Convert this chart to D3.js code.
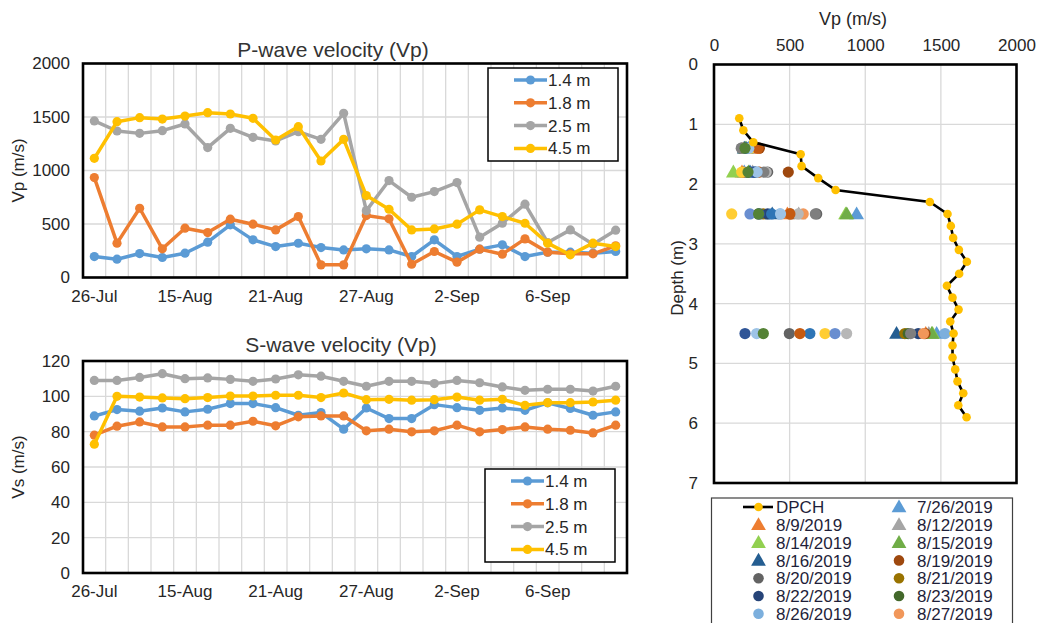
<!DOCTYPE html>
<html>
<head>
<meta charset="utf-8">
<script src="https://cdn.jsdelivr.net/npm/d3@7"></script>
<style>
  body { margin: 0; background: #fff; }
  text { font-family: "Liberation Sans", Arial, sans-serif; }
</style>
</head>
<body>
<div id="vis"></div>
<script>
// measurement dates (category axis of the two left charts)
const dates = ["26-Jul", "9-Aug", "12-Aug", "14-Aug", "15-Aug", "16-Aug", "19-Aug", "20-Aug",
	"21-Aug", "22-Aug", "23-Aug", "26-Aug", "27-Aug", "28-Aug", "29-Aug", "30-Aug",
	"2-Sep", "3-Sep", "4-Sep", "5-Sep", "6-Sep", "9-Sep", "10-Sep", "11-Sep"];

const depthNames = ["1.4 m", "1.8 m", "2.5 m", "4.5 m"];

// P-wave velocity (m/s)
const vp14 = [196, 171, 224, 187, 227, 330, 492, 352, 289, 320, 280, 258, 268, 258, 196, 352, 196, 265, 305, 196, 237, 237, 227, 243];
const vp18 = [934, 321, 647, 268, 461, 420, 545, 498, 445, 569, 118, 118, 579, 548, 124, 243, 143, 265, 218, 361, 237, 221, 221, 296];
const vp25 = [1463, 1369, 1347, 1372, 1435, 1214, 1394, 1310, 1276, 1363, 1291, 1534, 625, 906, 750, 803, 887, 377, 507, 685, 327, 445, 311, 442];
const vp45 = [1114, 1456, 1494, 1481, 1509, 1540, 1528, 1488, 1285, 1410, 1089, 1291, 766, 638, 445, 454, 498, 632, 569, 507, 321, 212, 321, 289];

// S-wave velocity (m/s)
const vs14 = [88.9, 92.5, 91.6, 93.4, 91.2, 92.7, 95.9, 95.9, 93.6, 89.3, 90.8, 81.4, 93.4, 87.4, 87.4, 95.3, 93.6, 92.1, 93.4, 92.1, 96.3, 93.1, 89.3, 91.2];
const vs18 = [78.0, 83.1, 85.5, 82.7, 82.7, 83.7, 83.7, 85.9, 83.3, 88.4, 88.9, 88.9, 80.5, 81.4, 79.9, 80.5, 83.7, 79.9, 81.2, 82.7, 81.4, 80.8, 79.3, 83.7];
const vs25 = [109.0, 109.0, 110.7, 112.8, 110.0, 110.4, 109.6, 108.5, 109.8, 112.2, 111.4, 108.5, 105.7, 108.5, 108.5, 107.2, 109.0, 107.7, 105.3, 103.4, 104.0, 104.0, 103.0, 105.7];
const vs45 = [72.9, 100.0, 99.6, 99.1, 98.7, 99.3, 100.2, 100.2, 100.6, 100.6, 99.3, 101.9, 98.1, 98.3, 97.8, 98.1, 99.6, 97.8, 98.3, 94.9, 96.4, 96.4, 96.8, 97.8];

const lineColors = ["#5B9BD5", "#ED7D31", "#A5A5A5", "#FFC000"];

// DPCH profile
const dpchDepth = [0.9, 1.1, 1.3, 1.5, 1.7, 1.9, 2.1, 2.3, 2.5, 2.7, 2.9, 3.1, 3.3, 3.5, 3.7, 3.9, 4.1, 4.3, 4.5, 4.7, 4.9, 5.1, 5.3, 5.5, 5.7, 5.9];
const dpchVp = [167, 194, 260, 573, 579, 689, 804, 1427, 1544, 1566, 1581, 1619, 1672, 1621, 1540, 1577, 1617, 1562, 1584, 1577, 1577, 1595, 1610, 1648, 1615, 1670];

// per-date Vp at the four sensor depths (right chart)
const sensorDepths = [1.4, 1.8, 2.5, 4.5];
const scatterDates = ["7/26/2019", "8/9/2019", "8/12/2019", "8/14/2019", "8/15/2019", "8/16/2019",
	"8/19/2019", "8/20/2019", "8/21/2019", "8/22/2019", "8/23/2019", "8/26/2019", "8/27/2019",
	"8/28/2019", "8/29/2019", "8/30/2019", "9/2/2019", "9/3/2019", "9/4/2019", "9/5/2019", "9/6/2019", "9/9/2019"];
const scatterVp = [
	[230, 200, 943, 1472],
	[265, 185, 485, 1400],
	[215, 255, 560, 1420],
	[205, 128, 870, 1445],
	[210, 228, 878, 1440],
	[200, 238, 385, 1207],
	[300, 491, 505, 1395],
	[183, 355, 679, 498],
	[195, 190, 325, 1262],
	[225, 275, 355, 1350],
	[205, 227, 293, 1284],
	[238, 293, 436, 1527],
	[285, 195, 590, 1385],
	[190, 345, 557, 877],
	[240, 183, 117, 734],
	[220, 250, 238, 800],
	[212, 268, 381, 634],
	[290, 300, 502, 568],
	[180, 330, 670, 1300],
	[215, 260, 300, 205],
	[230, 285, 440, 282],
	[205, 225, 295, 326]
];
const scatterShapes = ["tri", "tri", "tri", "tri", "tri", "tri", "dot", "dot", "dot", "dot", "dot", "dot", "dot",
	"dot", "dot", "dot", "dot", "dot", "dot", "dot", "dot", "dot"];
const scatterColors = ["#5B9BD5", "#ED7D31", "#A5A5A5", "#92D050", "#70AD47", "#255E91", "#9E480E", "#636363",
	"#997300", "#264478", "#43682B", "#7CAFDD", "#F1975A", "#B7B7B7", "#FFCD33", "#698ED0", "#2E75B6",
	"#C55A11", "#7F7F7F", "#2F5597", "#9DC3E6", "#548235"];

// only the first rows of the legend fit inside the picture
const legendShown = 14;

const svg = d3.select("#vis").append("svg")
	.attr("width", 1042)
	.attr("height", 623);

const grid = "#D9D9D9";
const txt = "#262626";

function lineChart(opt) {
	const g = svg.append("g");
	const x = d3.scaleBand().domain(dates).range([opt.left, opt.right]);
	const y = d3.scaleLinear().domain([0, opt.max]).range([opt.bottom, opt.top]);

	// vertical grid at category edges
	g.selectAll(".vg").data(dates.slice(1)).enter().append("line")
		.attr("x1", d => x(d)).attr("x2", d => x(d))
		.attr("y1", opt.top).attr("y2", opt.bottom)
		.style("stroke", grid).style("stroke-width", 1.3);
	g.selectAll(".hg").data(opt.ticks).enter().append("line")
		.attr("x1", opt.left).attr("x2", opt.right)
		.attr("y1", d => y(d)).attr("y2", d => y(d))
		.style("stroke", grid).style("stroke-width", 1.3);

	const yAxis = g.append("g")
		.attr("transform", "translate(" + (opt.left - 13) + ",0)")
		.call(d3.axisLeft(y).tickValues(opt.ticks).tickSize(0).tickPadding(0).tickFormat(d3.format("d")));
	yAxis.select(".domain").remove();
	yAxis.selectAll("text").style("font-size", "17px").style("fill", txt)
		.style("font-family", "'Liberation Sans', Arial, sans-serif");

	const xAxis = g.append("g")
		.attr("transform", "translate(0," + (opt.bottom + 12) + ")")
		.call(d3.axisBottom(x).tickValues(dates.filter((d, i) => i % 4 == 0)).tickSize(0).tickPadding(0));
	xAxis.select(".domain").remove();
	xAxis.selectAll("text").style("font-size", "17px").style("fill", txt)
		.style("font-family", "'Liberation Sans', Arial, sans-serif");

	const line = d3.line().x((d, i) => x(dates[i]) + x.bandwidth() / 2).y(d => y(d));
	opt.series.forEach((s, k) => {
		g.append("path").datum(s)
			.attr("d", line)
			.style("fill", "none")
			.style("stroke", lineColors[k])
			.style("stroke-width", 3.5)
			.style("stroke-linejoin", "round");
		g.selectAll(".m" + k).data(s).enter().append("circle")
			.attr("cx", (d, i) => x(dates[i]) + x.bandwidth() / 2)
			.attr("cy", d => y(d))
			.attr("r", 4.6)
			.style("fill", lineColors[k]);
	});

	g.append("rect")
		.attr("x", opt.left).attr("y", opt.top)
		.attr("width", opt.right - opt.left).attr("height", opt.bottom - opt.top)
		.style("fill", "none").style("stroke", "#000").style("stroke-width", 2.6);

	g.append("text")
		.attr("x", opt.titleX).attr("y", opt.titleY)
		.style("text-anchor", "middle").style("font-size", "21px").style("fill", "#333")
		.text(opt.title);

	g.append("text")
		.attr("transform", "translate(24," + (opt.top + opt.bottom) / 2 + ") rotate(-90)")
		.style("text-anchor", "middle").style("font-size", "17px").style("fill", txt)
		.text(opt.ytitle);

	// legend
	const lg = g.append("g");
	lg.append("rect")
		.attr("x", opt.legX).attr("y", opt.legY)
		.attr("width", 130).attr("height", 93)
		.style("fill", "#fff").style("stroke", "#000").style("stroke-width", 1.5);
	depthNames.forEach((n, k) => {
		const ry = opt.legY + 12 + k * 22.8;
		lg.append("line")
			.attr("x1", opt.legX + 26).attr("x2", opt.legX + 59)
			.attr("y1", ry).attr("y2", ry)
			.style("stroke", lineColors[k]).style("stroke-width", 3.5);
		lg.append("circle").attr("cx", opt.legX + 42.5).attr("cy", ry).attr("r", 4.6)
			.style("fill", lineColors[k]);
		lg.append("text")
			.attr("x", opt.legX + 60).attr("y", ry)
			.attr("dy", "0.35em")
			.style("font-size", "17px").style("fill", txt)
			.text(n);
	});
}

lineChart({
	left: 83, right: 627, top: 63.5, bottom: 277.5, max: 2000,
	ticks: [0, 500, 1000, 1500, 2000],
	series: [vp14, vp18, vp25, vp45],
	title: "P-wave velocity (Vp)", titleX: 333, titleY: 57,
	ytitle: "Vp (m/s)",
	legX: 488, legY: 68
});

lineChart({
	left: 83, right: 627, top: 361, bottom: 573, max: 120,
	ticks: [0, 20, 40, 60, 80, 100, 120],
	series: [vs14, vs18, vs25, vs45],
	title: "S-wave velocity (Vp)", titleX: 341, titleY: 352,
	ytitle: "Vs (m/s)",
	legX: 485, legY: 469
});

// ---- right chart: Vp vs depth ----
const rg = svg.append("g");
const rx = d3.scaleLinear().domain([0, 2000]).range([714, 1016.5]);
const ry = d3.scaleLinear().domain([0, 7]).range([64.5, 483]);

rg.selectAll(".vg").data([500, 1000, 1500]).enter().append("line")
	.attr("x1", d => rx(d)).attr("x2", d => rx(d))
	.attr("y1", ry(0)).attr("y2", ry(7))
	.style("stroke", grid).style("stroke-width", 1.3);
rg.selectAll(".hg").data([1, 2, 3, 4, 5, 6]).enter().append("line")
	.attr("x1", rx(0)).attr("x2", rx(2000))
	.attr("y1", d => ry(d)).attr("y2", d => ry(d))
	.style("stroke", grid).style("stroke-width", 1.3);

const topAxis = rg.append("g")
	.attr("transform", "translate(0," + (ry(0) - 14) + ")")
	.call(d3.axisTop(rx).tickValues([0, 500, 1000, 1500, 2000]).tickSize(0).tickPadding(0).tickFormat(d3.format("d")));
topAxis.select(".domain").remove();
topAxis.selectAll("text").style("font-size", "17px").style("fill", txt)
	.style("font-family", "'Liberation Sans', Arial, sans-serif");

const depthAxis = rg.append("g")
	.attr("transform", "translate(" + (rx(0) - 16) + ",0)")
	.call(d3.axisLeft(ry).tickValues(d3.range(0, 8)).tickSize(0).tickPadding(0).tickFormat(d3.format("d")));
depthAxis.select(".domain").remove();
depthAxis.selectAll("text").style("font-size", "17px").style("fill", txt)
	.style("font-family", "'Liberation Sans', Arial, sans-serif");

rg.append("text")
	.attr("x", 853).attr("y", 25)
	.style("text-anchor", "middle").style("font-size", "18px").style("fill", txt)
	.text("Vp (m/s)");
rg.append("text")
	.attr("transform", "translate(683,278) rotate(-90)")
	.style("text-anchor", "middle").style("font-size", "17px").style("fill", txt)
	.text("Depth (m)");

const tri = d3.symbol().type(d3.symbolTriangle).size(95);

scatterVp.forEach((vals, k) => {
	vals.forEach((v, j) => {
		if (scatterShapes[k] == "tri") {
			rg.append("path")
				.attr("d", tri)
				.attr("transform", "translate(" + rx(v) + "," + (ry(sensorDepths[j]) + 1) + ")")
				.style("fill", scatterColors[k]);
		} else {
			rg.append("circle")
				.attr("cx", rx(v)).attr("cy", ry(sensorDepths[j]))
				.attr("r", 5.6)
				.style("fill", scatterColors[k]);
		}
	});
});

const dpch = dpchDepth.map((d, i) => [dpchVp[i], d]);
rg.append("path").datum(dpch)
	.attr("d", d3.line().x(d => rx(d[0])).y(d => ry(d[1])))
	.style("fill", "none").style("stroke", "#000").style("stroke-width", 2.6);
rg.selectAll(".dp").data(dpch).enter().append("circle")
	.attr("cx", d => rx(d[0])).attr("cy", d => ry(d[1]))
	.attr("r", 4.3)
	.style("fill", "#FFC000");

rg.append("rect")
	.attr("x", rx(0)).attr("y", ry(0))
	.attr("width", rx(2000) - rx(0)).attr("height", ry(7) - ry(0))
	.style("fill", "none").style("stroke", "#000").style("stroke-width", 2.6);

// legend of right chart (box runs off the bottom of the picture)
const legItems = ["DPCH"].concat(scatterDates).slice(0, legendShown);
const leg = rg.append("g");
const rowH = 17.8;
leg.append("rect")
	.attr("x", 711.5).attr("y", 498)
	.attr("width", 301).attr("height", 200)
	.style("fill", "#fff").style("stroke", "#404040").style("stroke-width", 1.2);

legItems.forEach((n, i) => {
	const col = i % 2;
	const row = Math.floor(i / 2);
	const cy = 507 + row * rowH;
	const mx = col == 0 ? 758.5 : 899;
	const tx = col == 0 ? 776 : 917;
	if (i == 0) {
		leg.append("line").attr("x1", 743).attr("x2", 773).attr("y1", cy).attr("y2", cy)
			.style("stroke", "#000").style("stroke-width", 2.6);
		leg.append("circle").attr("cx", mx).attr("cy", cy).attr("r", 4.3).style("fill", "#FFC000");
	} else if (scatterShapes[i - 1] == "tri") {
		leg.append("path").attr("d", tri)
			.attr("transform", "translate(" + mx + "," + (cy + 1) + ")")
			.style("fill", scatterColors[i - 1]);
	} else {
		leg.append("circle").attr("cx", mx).attr("cy", cy).attr("r", 5.3)
			.style("fill", scatterColors[i - 1]);
	}
	leg.append("text")
		.attr("x", tx).attr("y", cy).attr("dy", "0.36em")
		.style("font-size", "17px").style("fill", "#1f1f3a")
		.text(n);
});
</script>
</body>
</html>
